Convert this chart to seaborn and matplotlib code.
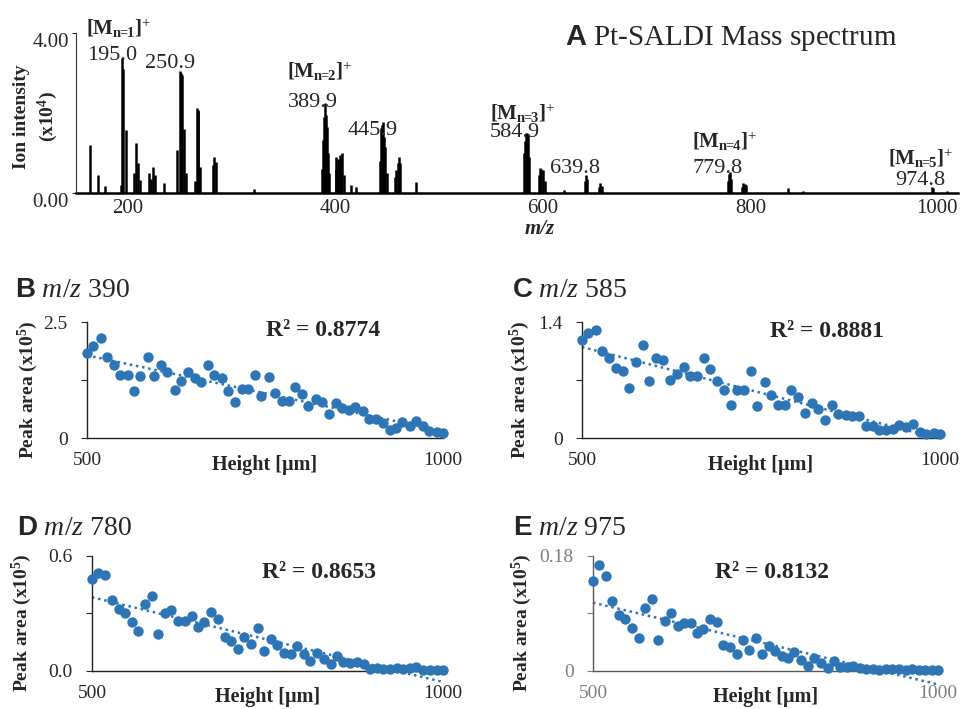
import numpy as np
import pandas as pd
import seaborn as sns
import matplotlib.pyplot as plt

# Panel A: Pt-SALDI mass spectrum (stick peaks)
peak_mz = [163.2, 171.2, 177.7, 193.0, 194.7, 195.6, 198.6, 205.9, 208.2, 209.8, 211.5,
           220.4, 222.0, 224.2, 225.8, 234.8, 247.7, 250.3, 251.3, 252.2, 254.5, 256.5,
           264.8, 266.3, 267.2, 267.9, 269.5, 282.2, 283.0, 284.6, 322.0,
           387.3, 388.1, 389.0, 390.0, 391.0, 392.0, 393.0, 393.9,
           400.2, 401.0, 402.6, 403.5, 404.5, 405.5, 406.4, 408.0, 415.4, 420.0,
           443.4, 444.3, 445.2, 445.9, 447.0, 448.0, 450.0,
           457.8, 458.8, 460.0, 461.0, 462.7, 478.0,
           582.0, 583.2, 584.1, 584.9, 585.7, 587.0, 596.0, 597.0, 598.6, 600.3, 602.0,
           620.0, 640.4, 641.3, 642.2, 654.5, 655.4, 656.5,
           778.7, 779.5, 780.3, 781.5, 792.0, 793.0, 794.5, 796.0, 836.3, 850.4, 975.0, 976.0, 989.0]
peak_int = [1.20, 0.45, 0.18, 0.20, 3.37, 3.10, 1.58, 0.49, 1.24, 0.75, 0.33,
            0.50, 0.35, 0.66, 0.45, 0.25, 1.07, 3.06, 3.00, 2.95, 1.60, 0.50,
            0.30, 2.12, 2.08, 2.05, 0.65, 0.70, 0.91, 0.78, 0.10,
            0.60, 1.33, 1.90, 2.24, 1.95, 1.66, 1.00, 0.50,
            0.60, 0.91, 0.85, 0.80, 0.95, 0.90, 0.99, 0.45, 0.20, 0.15,
            0.80, 1.62, 1.70, 1.78, 1.40, 1.15, 0.50,
            0.40, 0.58, 0.75, 0.91, 0.75, 0.28,
            1.00, 1.30, 1.49, 1.50, 1.45, 0.90, 0.45, 0.62, 0.60, 0.57, 0.30,
            0.08, 0.30, 0.45, 0.35, 0.15, 0.24, 0.18,
            0.30, 0.48, 0.53, 0.35, 0.15, 0.24, 0.22, 0.20, 0.12, 0.05, 0.16, 0.12, 0.06]
mz_ticks = [200, 400, 600, 800, 1000]

ion_labels = [r'$\mathbf{[M_{n\!\!=\!\!1}]}^{+}$', '195.0', '250.9', r'$\mathbf{[M_{n\!\!=\!\!2}]}^{+}$', '389.9',
              '445.9', r'$\mathbf{[M_{n\!\!=\!\!3}]}^{+}$', '584.9', '639.8', r'$\mathbf{[M_{n\!\!=\!\!4}]}^{+}$',
              '779.8', r'$\mathbf{[M_{n\!\!=\!\!5}]}^{+}$', '974.8']
ion_label_mz = [159.3, 160.3, 216.2, 353.1, 354.0, 411.9, 548.7, 548.7, 606.6, 743.4, 744.4, 932.3, 939.1]
ion_label_y = [3.95, 3.33, 3.12, 2.87, 2.15, 1.45, 1.83, 1.40, 0.50, 1.12, 0.50, 0.70, 0.20]

# Panels B-E: peak area (x10^5) versus height
height_um = [500, 509, 519, 528, 538, 547, 557, 566, 575, 585, 594, 604, 613, 623, 632, 642,
             651, 660, 670, 679, 689, 698, 708, 717, 726, 736, 745, 755, 764, 774, 783, 792,
             802, 811, 821, 830, 840, 849, 858, 868, 877, 887, 896, 906, 915, 925, 934, 943,
             953, 962, 972, 981, 991, 1000]
area_390 = [1.832, 1.990, 2.155, 1.739, 1.566, 1.351, 1.351, 1.020, 1.329, 1.739, 1.329, 1.566,
            1.415, 1.027, 1.236, 1.422, 1.293, 1.200, 1.566, 1.351, 1.293, 1.020, 0.769, 1.063,
            1.063, 1.351, 0.898, 1.315, 0.970, 0.790, 0.790, 1.099, 0.955, 0.682, 0.848, 0.769,
            0.524, 0.754, 0.647, 0.611, 0.668, 0.575, 0.409, 0.409, 0.323, 0.180, 0.216, 0.345,
            0.251, 0.374, 0.251, 0.144, 0.129, 0.108]
area_585 = [1.187, 1.267, 1.307, 1.054, 0.966, 0.845, 0.805, 0.603, 0.913, 1.118, 0.684, 0.966,
            0.945, 0.696, 0.772, 0.853, 0.744, 0.744, 0.966, 0.837, 0.684, 0.575, 0.402, 0.575,
            0.583, 0.805, 0.390, 0.676, 0.523, 0.394, 0.394, 0.583, 0.495, 0.302, 0.422, 0.350,
            0.221, 0.402, 0.294, 0.282, 0.270, 0.270, 0.141, 0.141, 0.101, 0.101, 0.113, 0.153,
            0.133, 0.169, 0.072, 0.052, 0.060, 0.052]
area_780 = [0.478, 0.513, 0.501, 0.370, 0.326, 0.305, 0.256, 0.209, 0.352, 0.391, 0.195, 0.305,
            0.317, 0.262, 0.262, 0.288, 0.230, 0.256, 0.309, 0.270, 0.178, 0.157, 0.113, 0.178,
            0.143, 0.225, 0.103, 0.169, 0.134, 0.094, 0.091, 0.129, 0.091, 0.052, 0.094, 0.065,
            0.038, 0.078, 0.047, 0.042, 0.047, 0.035, 0.012, 0.017, 0.012, 0.012, 0.016, 0.012,
            0.016, 0.021, 0.007, 0.007, 0.007, 0.007]
area_975 = [0.141, 0.166, 0.148, 0.110, 0.087, 0.081, 0.067, 0.051, 0.099, 0.112, 0.049, 0.078,
            0.090, 0.070, 0.075, 0.075, 0.060, 0.065, 0.082, 0.076, 0.040, 0.037, 0.027, 0.048,
            0.033, 0.051, 0.026, 0.039, 0.031, 0.023, 0.021, 0.030, 0.017, 0.008, 0.020, 0.013,
            0.005, 0.015, 0.006, 0.007, 0.008, 0.005, 0.003, 0.003, 0.002, 0.003, 0.003, 0.003,
            0.002, 0.003, 0.002, 0.002, 0.002, 0.001]

panel_letters = ['B', 'C', 'D', 'E']
panel_mz = ['390', '585', '780', '975']
panel_areas = [area_390, area_585, area_780, area_975]
y_max = [2.5, 1.4, 0.6, 0.18]
y_top_labels = ['2.5', '1.4', '0.6', '0.18']
y_zero_labels = ['0', '0', '0.0', '0']
r2_texts = ['R² = 0.8774', 'R² = 0.8881', 'R² = 0.8653', 'R² = 0.8132']

sns.set_style('white')
plt.rcParams['font.family'] = ['Liberation Serif', 'DejaVu Serif']
plt.rcParams['mathtext.fontset'] = 'custom'
plt.rcParams['mathtext.rm'] = 'Liberation Serif'
plt.rcParams['mathtext.it'] = 'Liberation Serif:italic'
plt.rcParams['mathtext.bf'] = 'Liberation Serif:bold'
plt.rcParams['mathtext.sf'] = 'Liberation Sans:bold'

blue = '#2E75B6'
fig = plt.figure(figsize=(9.69, 7.09), dpi=100)

# --- A ---
axA = fig.add_axes([0.0784, 0.7278, 0.9102, 0.2257])
axA.vlines(peak_mz, 0, peak_int, color='black', lw=1.8)
axA.set_xlim(150, 1000)
axA.set_ylim(0, 4)
axA.set_xticks(mz_ticks)
axA.set_xticklabels([str(t) for t in mz_ticks])
axA.get_xticklabels()[-1].set_ha('right')
axA.set_yticks([0, 4])
axA.set_yticklabels(['0.00', '4.00'])
axA.tick_params(axis='x', length=0, pad=4, labelsize=15)
axA.tick_params(axis='y', length=3, width=0.8, pad=2, labelsize=15, direction='out', left=True)
for lbl in axA.get_yticklabels():
    lbl.set_va('top')
sns.despine(ax=axA)
axA.spines['left'].set_color('#333333')
axA.spines['left'].set_linewidth(0.8)
axA.spines['bottom'].set_color('black')
axA.spines['bottom'].set_linewidth(1.8)
axA.set_xlabel('m/z', fontsize=15, fontweight='bold', fontstyle='italic')
axA.xaxis.set_label_coords(0.526, -0.225)
axA.xaxis.label.set_va('center')
axA.set_ylabel('Ion intensity\n(x10$^{\\mathbf{4}}$)', fontsize=14, fontweight='bold', linespacing=1.3)
axA.yaxis.set_label_coords(-0.045, 0.475)
axA.yaxis.label.set_va('center')
for txt, mz, yv in zip(ion_labels, ion_label_mz, ion_label_y):
    axA.text(mz, yv, txt, fontsize=16 if txt[0] != '$' else 15, ha='left', va='baseline')
fig.text(0.583, 0.9365, r'$\mathsf{A}$ Pt-SALDI Mass spectrum', fontsize=21, ha='left', va='baseline')

# --- B-E ---
rects = [[0.0898, 0.3822, 0.3674, 0.1636],
         [0.6006, 0.3822, 0.3695, 0.1636],
         [0.0949, 0.0536, 0.3622, 0.1622],
         [0.6120, 0.0536, 0.3560, 0.1622]]
title_xy = [(0.0155, 0.581), (0.528, 0.581), (0.0175, 0.2454), (0.5294, 0.2454)]
r2_xy = [(0.663, 0.93), (0.684, 0.915), (0.647, 0.86), (0.519, 0.86)]
ylab_x = [-0.166, -0.173, -0.2, -0.206]

for i in range(4):
    ax = fig.add_axes(rects[i])
    df = pd.DataFrame({'height': height_um, 'area': panel_areas[i]})
    sns.regplot(data=df, x='height', y='area', ax=ax, ci=None, color=blue,
                scatter_kws=dict(s=56, linewidths=0, alpha=1, clip_on=False, zorder=3),
                line_kws=dict(ls=(0, (1, 1.5)), lw=1.8, clip_on=False, zorder=2))
    ax.set_xlim(500, 1000)
    ax.set_ylim(0, y_max[i])
    ax.set_xticks([500, 1000])
    ax.set_xticklabels(['500', '1000'])
    ax.set_yticks([0, y_max[i] / 2, y_max[i]])
    ax.set_yticklabels([y_zero_labels[i], '', y_top_labels[i]])
    ax.tick_params(axis='x', length=0, pad=10, labelsize=14)
    ax.tick_params(axis='y', length=4, width=0.8, pad=10, labelsize=14, direction='out', left=True)
    sns.despine(ax=ax)
    spine_col = '#595959' if i == 3 else '#222222'
    for s in ['left', 'bottom']:
        ax.spines[s].set_color(spine_col)
        ax.spines[s].set_linewidth(1.0)
    if i == 3:
        ax.tick_params(colors='#7f7f7f')
    ax.set_xlabel('Height [μm]', fontsize=14.5, fontweight='bold')
    ax.xaxis.set_label_coords(0.5, -0.23)
    ax.xaxis.label.set_va('center')
    ax.set_ylabel('Peak area (x10$^{\\mathbf{5}}$)', fontsize=14, fontweight='bold')
    ax.yaxis.set_label_coords(ylab_x[i], 0.42)
    ax.yaxis.label.set_va('center')
    ax.text(r2_xy[i][0], r2_xy[i][1], r2_texts[i], transform=ax.transAxes,
            ha='center', va='center', fontsize=17, fontweight='bold')
    fig.text(title_xy[i][0], title_xy[i][1],
             r'$\mathsf{' + panel_letters[i] + r'}$ $\mathit{m/z}$ ' + panel_mz[i],
             fontsize=20, ha='left', va='baseline')

fig.savefig('out.png', dpi=100)
